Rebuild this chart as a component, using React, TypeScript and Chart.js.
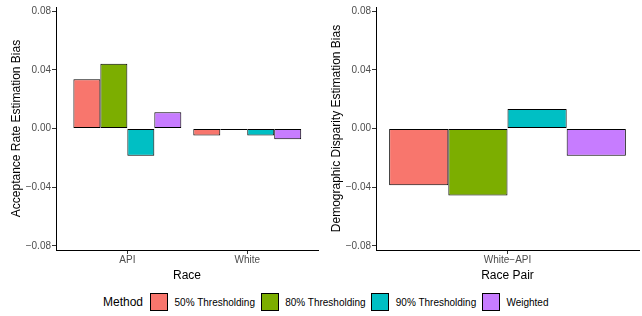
import React, { useEffect, useRef } from 'react';
import { Chart, registerables } from 'chart.js';

Chart.register(...registerables);
Chart.defaults.font.family = '"Liberation Sans", Arial, Helvetica, sans-serif';

// ---- data ----
const methods = ['50% Thresholding', '80% Thresholding', '90% Thresholding', 'Weighted'];
const methodColors = ['#F8766D', '#7CAE00', '#00BFC4', '#C77CFF'];

const races = ['API', 'White'];
const rateBias50 = [0.0335, -0.0047];
const rateBias80 = [0.0442, -0.0011];
const rateBias90 = [-0.0185, -0.0047];
const rateBiasWeighted = [0.0111, -0.0073];

const racePairs = ['White\u2212API'];
const dispBias50 = [-0.0387];
const dispBias80 = [-0.0456];
const dispBias90 = [0.0133];
const dispBiasWeighted = [-0.0185];

const yTicks = [-0.08, -0.04, 0, 0.04, 0.08];
const yMin = -0.0828;
const yMax = 0.0828;

const leftSeries = [rateBias50, rateBias80, rateBias90, rateBiasWeighted];
const rightSeries = [dispBias50, dispBias80, dispBias90, dispBiasWeighted];

const fmt = (v: number) => {
  const s = Math.abs(v).toFixed(2);
  return v < -1e-9 ? '\u2212' + s : s;
};

type PanelProps = {
  labels: string[];
  series: number[][];
  xMin: number;
  xMax: number;
  xTitle: string;
  yTitle: string;
  width: number;
  height: number;
};

function Panel({ labels, series, xMin, xMax, xTitle, yTitle, width, height }: PanelProps) {
  const ref = useRef<HTMLCanvasElement | null>(null);
  useEffect(() => {
    if (!ref.current) return;
    const datasets = methods.map((m, i) => ({
      label: m,
      data: labels.map((_, j) => ({ x: j + 1, y: series[i][j] })),
      backgroundColor: methodColors[i],
      borderColor: '#000000',
      borderWidth: 1,
      borderSkipped: false as const,
      categoryPercentage: 0.9,
      barPercentage: 1,
    }));
    const chart = new Chart(ref.current, {
      type: 'bar',
      data: { datasets },
      options: {
        animation: false,
        responsive: false,
        events: [],
        layout: { padding: { top: 4, right: 3, left: 0, bottom: 0 } },
        plugins: { legend: { display: false }, tooltip: { enabled: false } },
        scales: {
          x: {
            type: 'linear',
            min: xMin,
            max: xMax,
            bounds: 'data',
            offset: false,
            afterBuildTicks: (s: any) => {
              s.ticks = labels.map((_, i) => ({ value: i + 1 }));
            },
            afterFit: (s: any) => {
              s.height = height - 250;
            },
            ticks: {
              callback: (_v: any, idx: number) => labels[idx] ?? '',
              color: '#4D4D4D',
              font: { size: 10 },
              padding: 0,
              maxRotation: 0,
              autoSkip: false,
            },
            grid: {
              display: true,
              drawOnChartArea: false,
              drawTicks: true,
              tickLength: 4,
              color: '#333333',
              offset: false,
            },
            border: { display: true, color: '#000000', width: 1 },
            title: {
              display: true,
              text: xTitle,
              color: '#000000',
              font: { size: 12 },
              padding: { top: 0, bottom: 2 },
            },
          },
          y: {
            type: 'linear',
            min: yMin,
            max: yMax,
            bounds: 'data',
            afterBuildTicks: (s: any) => {
              s.ticks = yTicks.map((v) => ({ value: v }));
            },
            afterFit: (s: any) => {
              s.width = 56;
            },
            ticks: {
              callback: (v: any) => fmt(Number(v)),
              color: '#4D4D4D',
              font: { size: 10 },
              padding: 1,
            },
            grid: {
              display: true,
              drawOnChartArea: false,
              drawTicks: true,
              tickLength: 4,
              color: '#333333',
            },
            border: { display: true, color: '#000000', width: 1 },
            title: {
              display: true,
              text: yTitle,
              color: '#000000',
              font: { size: 12 },
              padding: { top: 9, bottom: 0 },
            },
          },
        },
      } as any,
    });
    return () => chart.destroy();
  }, []);
  return <canvas ref={ref} width={width} height={height} style={{ display: 'block', width, height }} />;
}

function Legend() {
  return (
    <div
      style={{
        position: 'absolute',
        left: 0,
        top: 293,
        width: 642,
        height: 18,
        display: 'flex',
        alignItems: 'center',
        fontFamily: '"Liberation Sans", Arial, Helvetica, sans-serif',
        color: '#000',
        whiteSpace: 'nowrap',
      }}
    >
      <span style={{ marginLeft: 103, fontSize: 12, marginRight: 7 }}>Method</span>
      {methods.map((m, i) => (
        <React.Fragment key={m}>
          <span
            style={{
              display: 'inline-block',
              width: 18,
              height: 18,
              boxSizing: 'border-box',
              border: '1px solid #000',
              background: methodColors[i],
              marginRight: 6.5,
            }}
          />
          <span style={{ fontSize: 10, marginRight: 5.7 }}>{m}</span>
        </React.Fragment>
      ))}
    </div>
  );
}

export default function App() {
  return (
    <div style={{ position: 'absolute', left: 0, top: 0, width: 642, height: 316, background: '#fff' }}>
      <div style={{ position: 'absolute', left: 0, top: 0 }}>
        <Panel
          labels={races}
          series={leftSeries}
          xMin={0.405}
          xMax={2.59}
          xTitle="Race"
          yTitle="Acceptance Rate Estimation Bias"
          width={321}
          height={285}
        />
      </div>
      <div style={{ position: 'absolute', left: 320, top: 0 }}>
        <Panel
          labels={racePairs}
          series={rightSeries}
          xMin={0.5}
          xMax={1.5}
          xTitle="Race Pair"
          yTitle="Demographic Disparity Estimation Bias"
          width={322}
          height={285}
        />
      </div>
      <Legend />
    </div>
  );
}
